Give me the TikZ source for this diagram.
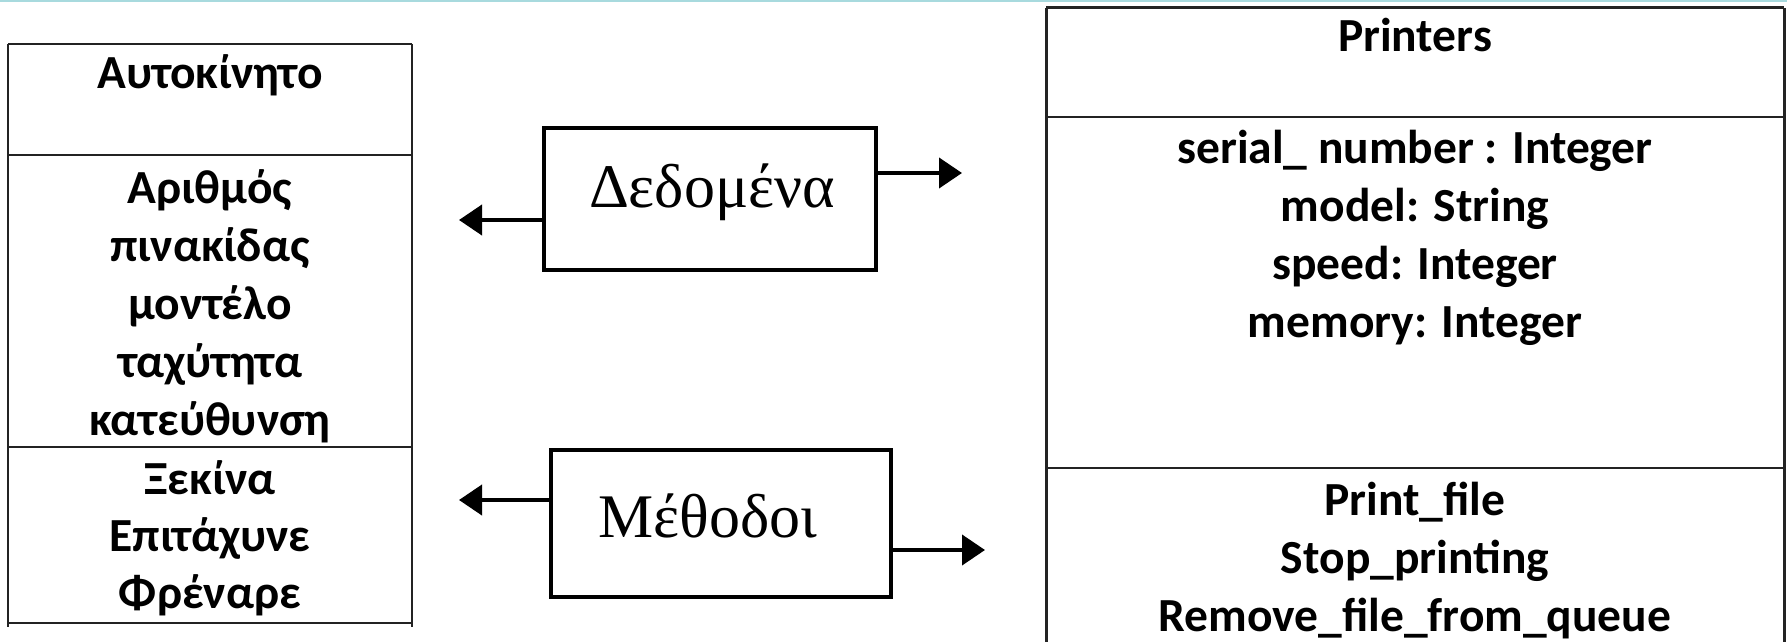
\documentclass[tikz,border=0pt]{standalone}
\usepackage{fontspec}
\setmainfont{Liberation Serif}
\newfontfamily\clsfont{Carlito}
\usetikzlibrary{arrows.meta}
\definecolor{topline}{RGB}{168,218,222}
\definecolor{rulecol}{RGB}{35,35,35}
\begin{document}
\begin{tikzpicture}[x=0.5pt,y=-0.5pt,
  boxline/.style={draw=rulecol, line width=1.1pt},
  heavyline/.style={draw=rulecol, line width=1.5pt},
  clstext/.style={font=\clsfont\bfseries\fontsize{23.75}{29}\selectfont, anchor=base, inner sep=0pt},
  midtext/.style={font=\fontsize{31}{36}\selectfont, anchor=base, inner sep=0pt},
  midbox/.style={draw=black, line width=2pt, inner sep=0pt},
  arr/.style={line width=2pt, -{Triangle[length=11.5pt,width=15pt]}}]
\useasboundingbox (0,0) rectangle (1787,642);

% thin accent rule along the top edge
\fill[topline] (0,0) rectangle (1787,2.5);

% ---- class "Αυτοκίνητο" ----
\draw[boxline] (8,44) -- (412,44);
\draw[boxline] (8,155) -- (412,155);
\draw[boxline] (8,447) -- (412,447);
\draw[boxline] (8,623) -- (412,623);
\draw[boxline] (8,44) -- (8,627);
\draw[boxline] (412,44) -- (412,627);

\node[clstext] (t0) at (210,89) {Αυτοκίνητο};
\node[clstext] (a1) at (210,203) {Αριθμός};
\node[clstext] (a2) at (210,261) {πινακίδας};
\node[clstext] (a3) at (210,319) {μοντέλο};
\node[clstext] (a4) at (210,377) {ταχύτητα};
\node[clstext] (a5) at (210,435) {κατεύθυνση};
\node[clstext] (m1) at (210,494) {Ξεκίνα};
\node[clstext] (m2) at (210,551) {Επιτάχυνε};
\node[clstext] (m3) at (210,608) {Φρέναρε};

% ---- class "Printers" ----
\draw[heavyline] (1046,8) -- (1784,8);
\draw[boxline] (1046,117) -- (1784,117);
\draw[boxline] (1046,468) -- (1784,468);
\draw[heavyline] (1046,8) -- (1046,642);
\draw[heavyline] (1784,8) -- (1784,642);

\node[clstext] (p0) at (1415,52) {Printers};
\node[clstext] (p1) at (1415,163) {serial\_ number : Integer};
\node[clstext] (p2) at (1415,221) {model: String};
\node[clstext] (p3) at (1415,279) {speed: Integer};
\node[clstext] (p4) at (1415,337) {memory: Integer};
\node[clstext] (q1) at (1415,515) {Print\_file};
\node[clstext] (q2) at (1415,573) {Stop\_printing};
\node[clstext] (q3) at (1415,631) {Remove\_file\_from\_queue};

% ---- middle labels ----
\node[midbox, minimum width=166pt, minimum height=71pt] (dbox) at (710,199) {};
\node[midtext] (dtext) at (712,207) {Δεδομένα};
\node[midbox, minimum width=170pt, minimum height=73.5pt] (mbox) at (721,523.5) {};
\node[midtext] (mtext) at (708,537) {Μέθοδοι};

\coordinate (dL) at (459,220);
\coordinate (dR) at (962,173);
\coordinate (mL) at (459,500);
\coordinate (mR) at (985,550);

\draw[arr] (dbox.west |- dL) -- (dL);
\draw[arr] (dbox.east |- dR) -- (dR);
\draw[arr] (mbox.west |- mL) -- (mL);
\draw[arr] (mbox.east |- mR) -- (mR);
\end{tikzpicture}
\end{document}
